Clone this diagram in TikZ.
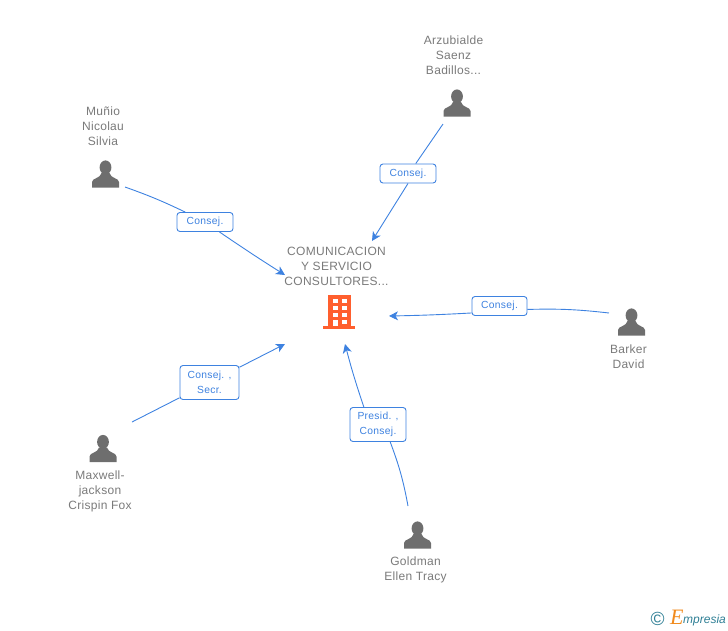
\documentclass[tikz,border=0pt]{standalone}
\usepackage{fontspec}
\setmainfont{Liberation Sans}
\newfontfamily\logofont{Liberation Serif}
\newfontfamily\namefont[LetterSpace=2.5]{Liberation Sans}
\newfontfamily\rolefont[LetterSpace=3]{Liberation Sans}
\usetikzlibrary{arrows.meta}
\definecolor{linkblue}{HTML}{3E82E0}
\definecolor{textgrey}{HTML}{7A7A7A}
\definecolor{icongrey}{HTML}{6E6E6E}
\definecolor{firmorange}{HTML}{FF5F2E}
\definecolor{logoteal}{HTML}{2F7F95}
\definecolor{logoorange}{HTML}{F08A1D}
\tikzset{
	nametext/.style={text=textgrey,align=center,inner sep=0pt,font=\namefont\fontsize{12}{15}\selectfont},
	rolebox/.style={draw=linkblue,line width=0.9pt,rounded corners=3pt,fill=white,text=linkblue,align=center,inner sep=0pt,font=\rolefont\fontsize{10.3}{15}\selectfont},
	link/.style={draw=linkblue,line width=0.9pt},
	linktip/.style={link,-{Stealth[length=9pt,width=9pt,inset=2.5pt]}},
	person/.pic={
		\fill[icongrey] (0,-6.6) ellipse[x radius=5.9,y radius=7];
		\fill[icongrey] (-13.5,13.5) -- (-13.5,8) .. controls (-13.5,4) and (-5,4.5) .. (-4,-1) -- (4,-1) .. controls (5,4.5) and (13.5,4) .. (13.5,8) -- (13.5,13.5) -- cycle;
	}
}
\begin{document}
\begin{tikzpicture}[x=1pt,y=-1pt]
	\useasboundingbox (0,0) rectangle (728,630);
	% firm
	\node[nametext] (firm) at (336.5,266) {COMUNICACION\\Y SERVICIO\\CONSULTORES...};
	\fill[firmorange] (328,295) rectangle (351,326);
	\fill[firmorange] (323,326) rectangle (355,329);
	\foreach \y in {299,306,313} {
		\fill[white] (333,\y) rectangle +(4.5,4);
		\fill[white] (342,\y) rectangle +(4.5,4);
	}
	\fill[white] (333,320) rectangle (337.5,326);
	\fill[white] (342,319.5) rectangle (346.5,323.5);
	% people
	\node[nametext] (arzu) at (453.5,55) {Arzubialde\\Saenz\\Badillos...};
	\node[nametext] (muno) at (103,126) {Muñio\\Nicolau\\Silvia};
	\node[nametext] (barker) at (628.5,356.5) {Barker\\David};
	\node[nametext] (maxwell) at (100,491) {Maxwell-\\jackson\\Crispin Fox};
	\node[nametext] (goldman) at (415.5,569.5) {Goldman\\Ellen Tracy};
	\pic at (457,103) {person};
	\pic at (105.5,174) {person};
	\pic at (631.5,322) {person};
	\pic at (103,448.5) {person};
	\pic at (417.5,535) {person};
	% free ends
	\coordinate (arzuEnd) at (443,124);
	\coordinate (arzuTip) at (372,241);
	\coordinate (munoEnd) at (125,187);
	\coordinate (munoTip) at (285,275);
	\coordinate (barkerEnd) at (609,313);
	\coordinate (barkerTip) at (389,316);
	\coordinate (maxwellEnd) at (132,422);
	\coordinate (maxwellTip) at (285,344);
	\coordinate (goldmanEnd) at (408,506);
	\coordinate (goldmanTip) at (345,344);
	% labels
	\node[rolebox,minimum width=56pt,minimum height=19pt] (arzuRole) at (408,173.5) {Consej.};
	\node[rolebox,minimum width=56pt,minimum height=19pt] (munoRole) at (205,222) {Consej.};
	\node[rolebox,minimum width=55pt,minimum height=19pt] (barkerRole) at (499.5,306) {Consej.};
	\node[rolebox,minimum width=59pt,minimum height=34pt] (maxwellRole) at (209.5,382.5) {Consej. ,\\Secr.};
	\node[rolebox,minimum width=56pt,minimum height=34pt] (goldmanRole) at (378,424.5) {Presid. ,\\Consej.};
	% connectors
	\draw[link] (arzuEnd) -- (arzuRole.52);
	\draw[linktip] (arzuRole.south) -- (arzuTip);
	\draw[link] (munoEnd) to[bend left=3] (munoRole);
	\draw[linktip] (munoRole) to[bend right=1] (munoTip);
	\draw[link] (barkerEnd) to[bend right=4] (barkerRole.353);
	\draw[linktip] (barkerRole.194) to[bend left=1] (barkerTip);
	\draw[link] (maxwellEnd) -- (maxwellRole);
	\draw[linktip] (maxwellRole) -- (maxwellTip);
	\draw[link] (goldmanEnd) to[bend right=5] (goldmanRole.305);
	\draw[linktip] (goldmanRole.129) to[bend left=2] (goldmanTip);
	% logo
	\node[inner sep=0pt,text=logoteal,font=\fontsize{19}{19}\selectfont] (copyr) at (657.5,619) {©};
	\node[inner sep=0pt,anchor=base west,text=logoorange,font=\logofont\itshape\fontsize{22}{22}\selectfont] (logoE) at (670,624) {E};
	\node[inner sep=0pt,anchor=base west,text=logoteal,font=\itshape\fontsize{12}{15}\selectfont] (logo) at (683,623) {mpresia};
\end{tikzpicture}
\end{document}
